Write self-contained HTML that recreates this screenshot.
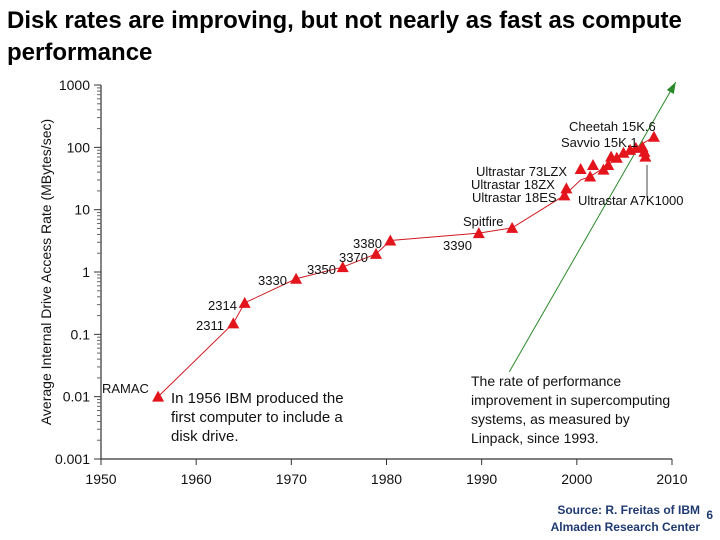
<!DOCTYPE html>
<html><head><meta charset="utf-8"><style>
body{margin:0;background:#fff;width:720px;height:540px;overflow:hidden;font-family:"Liberation Sans",sans-serif}
#title{position:absolute;left:7px;top:5px;font-size:24px;font-weight:bold;line-height:32px;color:#000;width:712px}
#src{position:absolute;right:20px;top:502px;font-size:12px;font-weight:bold;color:#1f3a70;text-align:right;line-height:17px}
#pg{position:absolute;right:7px;top:508px;font-size:12px;font-weight:bold;color:#1f3a70}
svg{position:absolute;left:0;top:0}
</style></head><body>
<div id="title">Disk rates are improving, but not nearly as fast as compute performance</div>
<div id="src">Source: R. Freitas of IBM<br>Almaden Research Center</div>
<div id="pg">6</div>
<svg id="chart" width="720" height="540"></svg>
<script>
const xTicks=[1950,1960,1970,1980,1990,2000,2010];
const yTicks=[0.001,0.01,0.1,1,10,100,1000];
const yTickLabels=["0.001","0.01","0.1","1","10","100","1000"];
const years=[1956,1963.9,1965.1,1970.5,1975.4,1978.9,1980.4,1989.7,1993.2,1998.7,1998.9,2000.4,2001.4,2001.7,2002.8,2003.3,2003.6,2004.2,2004.9,2005.6,2006.2,2006.9,2007.1,2007.2,2008.1];
const rates=[0.01,0.15,0.32,0.78,1.2,1.95,3.2,4.2,5.1,17,22,45,34,52,44,52,71,68,82,91,98,102,85,71,148];
const lineYears=[1956,1963.9,1965.1,1970.5,1975.4,1978.9,1980.4,1989.7,1993.2,1998.7,2000.4,2001.4,2003.3,2004.9,2006.2,2008.1];
const lineRates=[0.01,0.15,0.32,0.78,1.2,1.95,3.2,4.2,5.1,17,30,34,52,82,98,148];
const perfYears=[1992.9,2010.4];
const perfRates=[0.025,1120];
const X=y=>101+(y-1950)*571/60;
const Y=v=>459-(Math.log10(v)+3)*62.33;
const svg=document.getElementById('chart');
const NS='http://www.w3.org/2000/svg';
function mk(t,a){const e=document.createElementNS(NS,t);for(const k in a)e.setAttribute(k,a[k]);svg.appendChild(e);return e;}
function txt(x,y,s,size,anchor,name){const e=mk('text',{x:x,y:y,'font-size':size,'text-anchor':anchor||'start',fill:'#111','font-family':'Liberation Sans, sans-serif'});e.textContent=s;


return e;}
let ax=mk('path',{d:`M101 ${Y(1000)} V459 H672`,stroke:'#333','stroke-width':1.2,fill:'none'});


yTicks.forEach((v,i)=>{const y=Y(v);mk('line',{x1:94,x2:101,y1:y,y2:y,stroke:'#333'});
if(i<yTicks.length-1){for(let m=2;m<10;m++){const yy=Y(v*m);mk('line',{x1:97,x2:101,y1:yy,y2:yy,stroke:'#666'});}}
txt(90,y+5,yTickLabels[i],14,'end','y-tick-label');});
xTicks.forEach(t=>{const x=X(t);mk('line',{x1:x,x2:x,y1:459,y2:465,stroke:'#333'});txt(x,484,String(t),14,'middle','x-tick-label');});
let yt=txt(0,0,'Average Internal Drive Access Rate (MBytes/sec)',14,'middle','y-axis-title');
yt.setAttribute('transform','translate(51,272) rotate(-90)');
let pl=mk('line',{x1:X(perfYears[0]),y1:Y(perfRates[0]),x2:X(perfYears[1]),y2:Y(perfRates[1]),stroke:'#2a8a2a','stroke-width':1});


const ex=X(perfYears[1]),ey=Y(perfRates[1]);
let ah=mk('polygon',{points:`${ex},${ey} ${ex-9},${ey+8} ${ex-2},${ey+12}`,fill:'#2a8a2a'});


let dl=mk('polyline',{points:lineYears.map((y,i)=>X(y)+','+Y(lineRates[i])).join(' '),stroke:'#d01a20','stroke-width':1,fill:'none'});


years.forEach((y,i)=>{const cx=X(y),cy=Y(rates[i]);const p=mk('polygon',{points:`${cx},${cy-6} ${cx-6},${cy+5} ${cx+6},${cy+5}`,fill:'#e3141c'});

});
mk('line',{x1:647,y1:165,x2:647,y2:198,stroke:'#444'});
const labels=[["RAMAC",102,393],["2311",196,330],["2314",208,310],["3330",258,285],["3350",307,274],["3370",339,262],["3380",353,248],["3390",443,250],["Spitfire",463,226],["Ultrastar 18ES",472,202],["Ultrastar 18ZX",471,189],["Ultrastar 73LZX",476,176],["Savvio 15K.1",561,147],["Cheetah 15K.6",569,131],["Ultrastar A7K1000",578,205]];
labels.forEach(l=>txt(l[1],l[2],l[0],13,'start','point-label'));
[["In 1956 IBM produced the",171,403],["first computer to include a",171,422],["disk drive.",171,441]].forEach(l=>txt(l[1],l[2],l[0],15,'start','annotation-1956'));
[["The rate of performance",471,386],["improvement in supercomputing",471,405],["systems, as measured by",471,424],["Linpack, since 1993.",471,443]].forEach(l=>txt(l[1],l[2],l[0],14,'start','annotation-linpack'));
</script>
</body></html>
